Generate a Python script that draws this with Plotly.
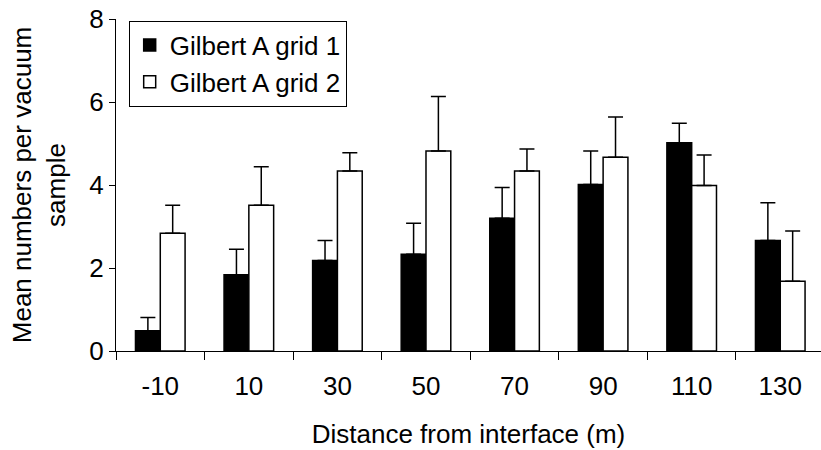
import plotly.graph_objects as go

categories = ["-10", "10", "30", "50", "70", "90", "110", "130"]
grid1 = [0.49, 1.84, 2.18, 2.33, 3.20, 4.01, 5.02, 2.66]
grid1_err = [0.32, 0.61, 0.48, 0.75, 0.74, 0.81, 0.47, 0.91]
grid2 = [2.84, 3.51, 4.34, 4.82, 4.34, 4.67, 3.99, 1.68]
grid2_err = [0.67, 0.93, 0.44, 1.31, 0.53, 0.97, 0.73, 1.21]
y_ticks = [0, 2, 4, 6, 8]

FONT = "Liberation Sans, Arial, sans-serif"
FS = 26

fig = go.Figure()
fig.add_trace(go.Bar(
    x=categories, y=grid1, name="Gilbert A grid 1", legendgroup="g1",
    marker=dict(color="black", line=dict(color="black", width=1.5)),
    error_y=dict(type="data", array=grid1_err, arrayminus=[0]*len(grid1),
                 symmetric=False, color="black", thickness=1.5, width=7.5),
))
fig.add_trace(go.Bar(
    x=categories, y=grid2, name="Gilbert A grid 2", legendgroup="g2",
    marker=dict(color="white", line=dict(color="black", width=1.5)),
    error_y=dict(type="data", array=grid2_err, arrayminus=[0]*len(grid2),
                 symmetric=False, color="black", thickness=1.5, width=7.5),
))

fig.update_layout(
    width=821, height=450,
    margin=dict(l=116, r=0, t=19, b=99),
    paper_bgcolor="white", plot_bgcolor="white",
    barmode="group", bargap=0.44, bargroupgap=0,
    font=dict(family=FONT, size=FS, color="black"),
    showlegend=True,
    legend=dict(
        x=0.018, y=0.995, xanchor="left", yanchor="top",
        bordercolor="black", borderwidth=1, bgcolor="white",
        font=dict(family=FONT, size=FS, color="black"),
        tracegroupgap=14, traceorder="normal",
    ),
)
fig.update_xaxes(
    type="category", range=[-0.5, 7.46],
    showline=True, linecolor="black", linewidth=1,
    ticks="outside", tickson="boundaries", ticklen=8, tickcolor="black",
    showgrid=False, zeroline=False,
    tickfont=dict(family=FONT, size=FS),
    ticklabelstandoff=12,
    title=dict(text="Distance from interface (m)", font=dict(family=FONT, size=FS), standoff=24),
)
fig.update_yaxes(
    range=[0, 8], tickvals=y_ticks, ticktext=[str(v) for v in y_ticks],
    showline=True, linecolor="black", linewidth=1,
    ticks="outside", ticklen=6, tickcolor="black",
    showgrid=False, zeroline=False,
    tickfont=dict(family=FONT, size=FS),
    title=dict(text="Mean numbers per vacuum<br>sample", font=dict(family=FONT, size=FS), standoff=16),
)

fig.write_html("out.html")
